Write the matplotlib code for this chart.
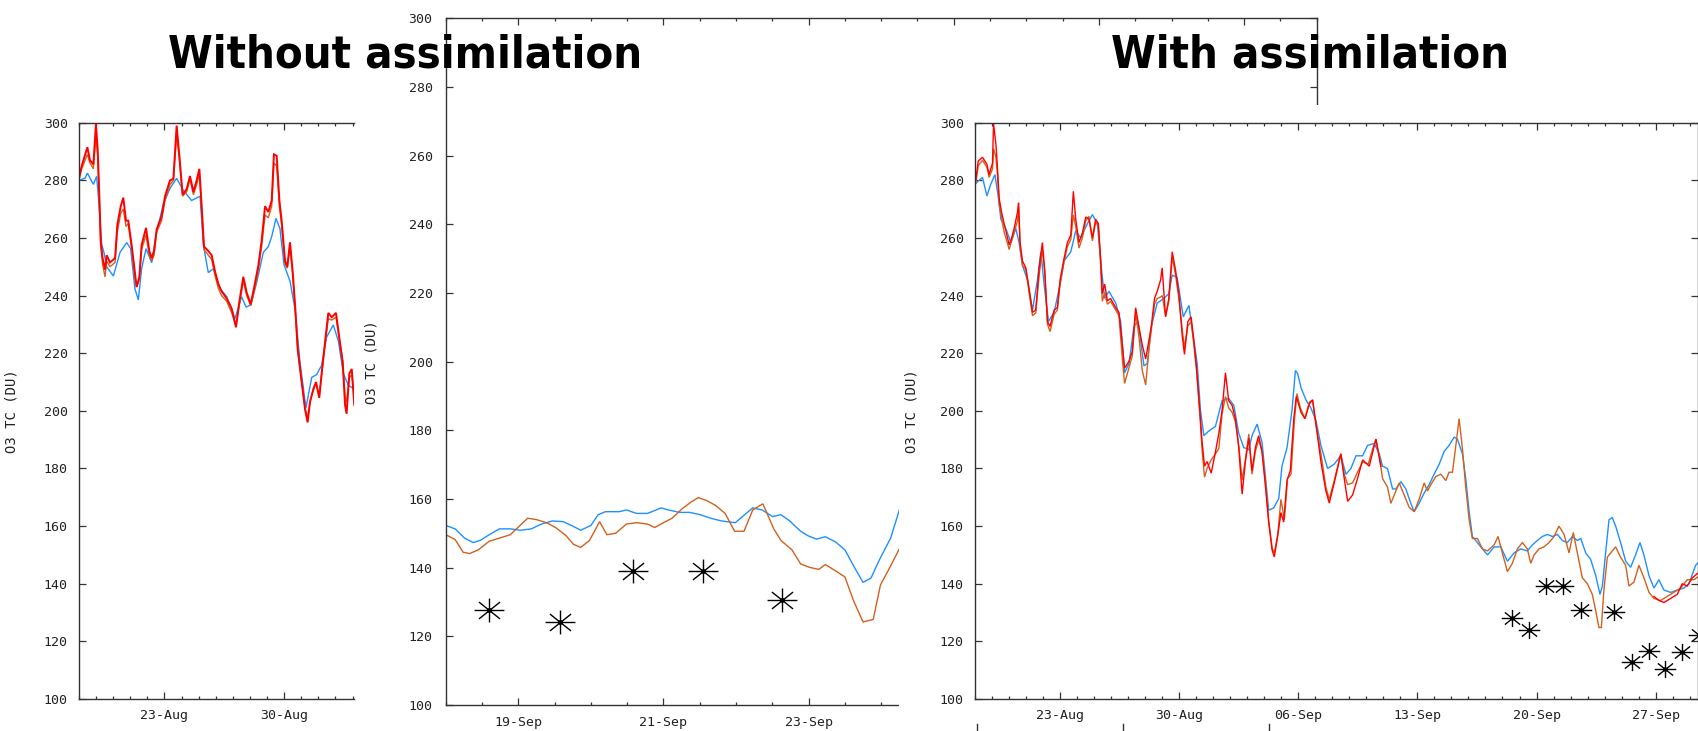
import numpy as np
import matplotlib
matplotlib.use("Agg")
import matplotlib.pyplot as plt
from matplotlib.path import Path
from matplotlib.patches import Rectangle
from matplotlib.lines import Line2D
from matplotlib.ticker import MultipleLocator

# x values are day numbers counted from 1 Aug (1 Aug = 1, 1 Sep = 32)
# ---------------- left panel: without assimilation ----------------
left_blue = [(18.00,280),(18.35,280.7),(18.49,282.5),(18.84,278.6),(19.03,281.4),(19.15,273),(19.33,257.7),
             (19.46,255),(19.62,250),(20.01,246.8),(20.40,255),(20.79,258.4),(21.02,256.3),(21.27,242.4),
             (21.47,238.5),(21.66,249.3),(21.92,256.3),(22.25,251.4),(22.54,262),(22.93,271.7),(23.32,277.2),
             (23.71,280.7),(24.10,276.5),(24.59,273),(25.08,274.5),(25.27,257.7),(25.56,248),(25.86,249.3),
             (26.25,242.4),(26.64,239.6),(27.12,232),(27.51,239.6),(27.77,236),(28.04,236.8),(28.39,244.5),
             (28.78,255),(29.07,257),(29.27,260.5),(29.52,266.8),(29.75,263.3),(29.99,250.7),(30.34,245),
             (30.63,235.4),(30.92,217.2),(31.27,201),(31.61,211.6),(31.90,212.6),(32.19,215.8),(32.48,225.6),
             (32.87,229.8),(33.17,224.2),(33.46,213),(33.75,208.9),(34.10,207.5)]
left_brown = [(18.00,280),(18.16,284),(18.49,289),(18.64,286),(18.84,284),(18.99,295),(19.09,289),(19.19,273),
              (19.27,257),(19.38,251),(19.52,246.5),(19.62,252),(19.81,250),(20.11,251.5),(20.24,262),
              (20.44,268.5),(20.59,270),(20.75,264),(20.88,265),(21.08,256),(21.27,246),(21.37,243),
              (21.53,245.5),(21.66,256),(21.92,261),(22.11,254),(22.25,252),(22.39,254),(22.54,262),
              (22.83,266),(23.03,273),(23.32,278.5),(23.52,280),(23.71,296),(23.87,287),(24.06,274.5),
              (24.30,276),(24.49,280.5),(24.69,275),(24.88,278.5),(25.04,282),(25.17,270),(25.31,256),
              (25.56,254),(25.76,252.5),(25.95,247),(26.15,242.5),(26.34,240),(26.64,238),(26.93,234),
              (27.18,229.5),(27.38,237),(27.61,245),(27.81,240),(28.04,236.5),(28.23,241),(28.49,249),
              (28.68,257),(28.88,268),(29.07,267),(29.27,271),(29.40,286),(29.56,285),(29.72,271),
              (29.85,264.5),(30.05,251),(30.18,249.5),(30.34,257),(30.50,247),(30.65,234.5),(30.79,221),
              (31.02,210.5),(31.22,201),(31.37,197.5),(31.51,203.5),(31.70,207),(31.86,209.5),(32.05,205),
              (32.19,212.5),(32.39,223),(32.58,232),(32.78,231.5),(33.03,232.5),(33.22,225),(33.42,217.5),
              (33.56,205),(33.65,203),(33.81,211.5),(33.95,212.5),(34.10,205)]
left_red = [(18.00,281),(18.16,285),(18.49,291.5),(18.64,287),(18.84,285.5),(18.99,299.5),(19.09,291),
            (19.19,274.5),(19.27,259),(19.38,253),(19.52,249),(19.62,254),(19.81,251.5),(20.11,253),
            (20.24,264.5),(20.44,271),(20.59,274),(20.75,266),(20.88,266),(21.08,257.5),(21.27,248),
            (21.37,243),(21.53,246.5),(21.66,257.5),(21.92,263.5),(22.11,255.5),(22.25,253),(22.39,255.5),
            (22.54,263),(22.83,267.5),(23.03,274.5),(23.32,280),(23.52,280.5),(23.71,299),(23.87,288.5),
            (24.06,275),(24.30,277),(24.49,281.5),(24.69,276),(24.88,280),(25.04,284),(25.17,271.5),
            (25.31,257),(25.56,255.5),(25.76,254),(25.95,248.5),(26.15,244),(26.34,241.5),(26.64,239),
            (26.93,235.5),(27.18,229),(27.38,238),(27.61,246.5),(27.81,241),(28.04,237),(28.23,242.5),
            (28.49,250.5),(28.68,259),(28.88,271),(29.07,269),(29.27,273),(29.40,289),(29.56,288.5),
            (29.72,273),(29.85,266),(30.05,252),(30.18,250),(30.34,258.5),(30.50,248),(30.65,235.5),
            (30.79,221.5),(31.02,210),(31.22,200.5),(31.37,196),(31.51,203),(31.70,207.5),(31.86,210),
            (32.05,204.5),(32.19,213),(32.39,224),(32.58,234),(32.78,232.5),(33.03,234),(33.22,225.5),
            (33.42,217),(33.56,202),(33.65,199),(33.81,213),(33.95,214.5),(34.10,202)]

# ---------------- middle panel: zoom 18-30 Sep ----------------
mid_blue = [(49.00,152.3),(49.13,151.3),(49.26,148.6),(49.38,147.3),(49.48,148),(49.60,149.6),(49.74,151.3),
            (49.89,151.3),(50.03,150.9),(50.18,151.3),(50.32,152.7),(50.47,153.6),(50.62,153.4),(50.76,152),
            (50.86,150.9),(51.00,152.3),(51.10,155.4),(51.20,156.3),(51.39,156.3),(51.49,156.8),(51.63,155.8),
            (51.78,155.8),(51.97,157.4),(52.07,156.8),(52.22,156.1),(52.36,156.1),(52.51,155.4),(52.65,154.4),
            (52.80,153.6),(52.99,153.1),(53.09,154.9),(53.23,157.4),(53.36,156.8),(53.50,154.9),(53.62,155.4),
            (53.74,153.6),(53.89,150.6),(53.99,149.3),(54.11,148.3),(54.23,149),(54.37,147.5),(54.50,145.2),
            (54.62,140.5),(54.75,135.7),(54.86,137),(54.98,142.5),(55.13,148.6),(55.25,156.8)]
mid_brown = [(49.00,149.6),(49.13,148.2),(49.24,144.5),(49.33,144.1),(49.45,145.2),(49.60,147.7),(49.74,148.6),
             (49.89,149.6),(50.01,152),(50.13,154.4),(50.25,154),(50.40,153),(50.52,151.6),(50.66,149.3),
             (50.76,146.8),(50.86,145.9),(50.98,147.9),(51.05,150.6),(51.12,153.4),(51.22,149.6),(51.34,150),
             (51.49,152.7),(51.63,153.1),(51.78,152.7),(51.88,151.7),(52.00,153.1),(52.12,154.4),(52.26,157.2),
             (52.38,159.1),(52.48,160.4),(52.60,159.5),(52.72,158.1),(52.85,155.8),(52.98,150.6),(53.11,150.6),
             (53.23,156.8),(53.37,158.6),(53.52,151.3),(53.62,147.9),(53.77,145.2),(53.89,141.1),(54.01,140.1),
             (54.14,139.5),(54.23,140.9),(54.37,139.1),(54.50,137.3),(54.62,130.3),(54.75,124.2),(54.89,124.9),
             (54.99,135),(55.13,140.5),(55.25,145.5)]
mid_obs_t = [49.59, 50.57, 51.58, 52.54, 53.63]
mid_obs_v = [127.8, 124.2, 139.1, 139.1, 130.7]

# ---------------- right panel: with assimilation ----------------
right_blue = [(18.05,279),(18.44,281),(18.70,274.6),(18.93,278.7),(19.17,282),(19.36,274.6),(19.52,266.5),
              (19.81,263.3),(20.11,258.4),(20.40,263.3),(20.59,258.4),(20.79,250.4),(21.08,245.5),(21.38,235),
              (21.67,245.5),(21.87,255.2),(22.06,243.9),(22.32,231),(22.65,234.2),(23.00,243.9),(23.23,252),
              (23.63,255.2),(23.92,262.5),(24.21,260),(24.60,264.9),(24.90,268.1),(25.19,265),(25.44,248.7),
              (25.62,239),(25.87,241.5),(26.27,237.4),(26.56,231),(26.79,213.2),(27.05,216.4),(27.34,229.3),
              (27.58,231),(27.73,224.5),(27.93,215.6),(28.12,216.4),(28.36,229.3),(28.71,237.4),(29.10,239),
              (29.39,240.7),(29.59,247.1),(29.88,246.3),(30.24,232.6),(30.57,236.6),(30.82,226),(31.06,216.4),
              (31.25,200.2),(31.45,191.4),(31.74,193),(32.13,194.6),(32.52,203.5),(32.91,204.3),(33.21,201.9),
              (33.50,192.2),(33.79,187.3),(34.09,186.5),(34.28,191.4),(34.58,195.4),(34.87,189),(35.06,177.6),
              (35.26,165.5),(35.55,166.3),(35.85,169.5),(36.04,180.8),(36.34,187.3),(36.63,200.2),(36.83,214),
              (36.96,213),(37.16,208),(37.45,203.8),(37.74,201),(38.04,196.6),(38.33,188),(38.72,180),
              (39.11,181.5),(39.50,184.4),(39.80,178),(40.09,180),(40.39,184.4),(40.78,184.4),(41.07,188),
              (41.46,188.7),(41.76,185.1),(41.95,180.8),(42.24,180),(42.54,172.9),(42.73,172.9),(43.03,175.4),
              (43.32,172.9),(43.61,167.9),(43.81,165),(44.10,167.9),(44.40,171.5),(44.69,174.4),(44.98,178),
              (45.28,181.5),(45.57,185.9),(45.86,188),(46.16,190.9),(46.35,190.2),(46.65,185),(46.84,176.5),
              (47.04,165),(47.23,156.4),(47.43,155),(47.72,152.8),(48.12,150),(48.51,152.8),(48.90,152.8),
              (49.29,147.8),(49.68,150.7),(50.07,152.1),(50.46,151.4),(50.76,153.5),(51.05,155),(51.34,156.4),
              (51.64,157.1),(51.93,156.4),(52.23,157.1),(52.52,155),(52.81,154.3),(53.11,156.4),(53.40,155),
              (53.60,155.7),(53.89,150.7),(54.18,148.5),(54.48,142.8),(54.73,136.3),(54.87,139.2),(55.06,150.7),
              (55.26,162.2),(55.45,163),(55.65,160),(55.94,154.3),(56.24,147.8),(56.53,145.7),(56.82,150),
              (57.08,154.3),(57.31,150),(57.61,142.8),(57.90,138.5),(58.19,141.4),(58.49,137.8),(58.88,137),
              (59.27,137.8),(59.66,138.5),(59.96,140),(60.35,146.4),(60.58,147.8)]
right_brown = [(18.05,279),(18.19,285),(18.44,287),(18.70,284.5),(18.83,281),(19.03,284),(19.09,291),(19.23,288),
               (19.32,282),(19.42,272),(19.56,267),(19.71,262),(19.87,259),(20.01,256),(20.15,259),(20.30,262),
               (20.50,266),(20.56,271),(20.65,257),(20.79,250.5),(20.99,249),(21.18,241),(21.38,233),(21.57,234),
               (21.77,247),(21.96,256),(22.10,248),(22.26,230),(22.41,227.5),(22.65,233.5),(22.84,235),(23.00,244),
               (23.23,251.5),(23.43,257),(23.63,259.5),(23.78,268),(23.92,264),(24.11,256.5),(24.31,260),
               (24.51,266),(24.70,267.5),(24.90,259),(25.09,265.5),(25.25,264),(25.39,250),(25.48,238),(25.62,241),
               (25.78,237),(25.97,238),(26.27,235),(26.46,233),(26.66,218),(26.79,209.5),(27.05,215),(27.24,219),
               (27.44,234),(27.63,226),(27.83,214),(28.03,209),(28.22,221),(28.36,228),(28.55,237),(28.71,239),
               (28.91,239.5),(29.00,240),(29.20,233),(29.39,238),(29.59,253.5),(29.79,247),(29.98,239),(30.18,228),
               (30.31,222),(30.51,229.5),(30.70,231),(30.86,223),(31.02,214),(31.21,199),(31.35,186),(31.49,177),
               (31.64,180),(31.88,183),(32.13,185),(32.33,187),(32.52,199),(32.72,205),(32.91,201),(33.11,199.5),
               (33.31,196),(33.50,188),(33.70,176),(33.89,183),(34.09,192),(34.28,178),(34.48,186),(34.67,190),
               (34.87,186),(35.06,176),(35.26,162),(35.46,152.5),(35.59,150.5),(35.79,157),(35.98,169.3),
               (36.18,162.2),(36.37,176.5),(36.57,178),(36.77,196.6),(36.92,206),(37.12,201),(37.39,197.3),
               (37.65,203),(37.84,203.8),(38.04,195.2),(38.33,185.1),(38.62,173.6),(38.82,169.3),(39.11,175.8),
               (39.50,185.1),(39.70,178),(39.90,174.4),(40.19,175),(40.48,178.7),(40.78,182.3),(41.11,181.5),
               (41.36,186.6),(41.56,190.2),(41.76,184.4),(41.95,176.5),(42.24,173.6),(42.44,167.9),(42.64,170.8),
               (42.93,175),(43.22,170.8),(43.52,166.5),(43.81,165),(44.10,169.3),(44.40,175),(44.59,172.2),
               (44.79,174.4),(45.08,177.2),(45.38,178),(45.67,175.8),(45.86,178.7),(46.06,178.7),(46.26,188),
               (46.45,197.3),(46.65,186.6),(46.84,173.6),(47.04,162.2),(47.23,155.7),(47.53,155.7),(47.82,152.1),
               (48.12,151.4),(48.51,153.5),(48.74,156.4),(48.99,150.7),(49.29,144.2),(49.58,147.1),(49.88,152.1),
               (50.17,154.3),(50.46,152.1),(50.66,147.1),(50.86,150),(51.15,152.1),(51.44,152.8),(51.74,154.3),
               (52.03,156.4),(52.32,160),(52.62,157.1),(52.91,150.7),(53.16,157.8),(53.40,150.7),(53.69,142.1),
               (53.99,140),(54.28,136.3),(54.48,130.6),(54.67,124.8),(54.81,124.8),(54.96,137.8),(55.16,149.2),
               (55.36,150.7),(55.65,152.8),(55.94,149.2),(56.24,146.4),(56.43,139.2),(56.73,140.6),(57.02,146.4),
               (57.31,142.1),(57.61,137),(57.90,134.9),(58.29,134.2),(58.68,135.6),(59.07,137),(59.47,138.5),
               (59.86,141.4),(60.25,141.4),(60.58,142.8)]
right_red_a = [(18.05,280.3),(18.19,286.7),(18.44,288),(18.70,285.6),(18.83,282),(19.03,286),(19.09,299.7),
               (19.23,292.4),(19.32,284.3),(19.42,273.8),(19.56,269),(19.71,265),(19.87,261),(20.01,257.6),
               (20.15,260),(20.30,263.3),(20.50,269),(20.56,272.2),(20.65,258.4),(20.79,252),(20.99,249.6),
               (21.18,242.3),(21.38,234.2),(21.57,235),(21.77,249.6),(21.96,258.4),(22.10,248.7),(22.26,231),
               (22.41,229.3),(22.65,235),(22.84,235.8),(23.00,245.5),(23.23,252.8),(23.43,258.4),(23.63,261),
               (23.78,276.2),(23.92,266.5),(24.11,258.4),(24.31,261.7),(24.51,267.3),(24.70,266.5),(24.90,260),
               (25.09,266.5),(25.25,265),(25.39,252),(25.48,240.7),(25.62,244),(25.78,238.2),(25.97,239),
               (26.27,235.8),(26.46,234.2),(26.66,222.9),(26.79,214.8),(27.05,217.2),(27.24,220.5),(27.44,235.8),
               (27.63,229.3),(27.83,222.9),(28.03,218),(28.22,224.5),(28.36,229.3),(28.55,239),(28.71,241.5),
               (28.91,245.5),(29.00,249.6),(29.20,232.6),(29.39,239),(29.59,255.2),(29.79,248.7),(29.98,240.7),
               (30.18,226),(30.31,219.6),(30.51,231),(30.70,232.6),(30.86,224.5),(31.02,214.8),(31.21,200.2),
               (31.35,188.9),(31.49,180.8),(31.64,182.4),(31.88,178.4),(32.13,185.7),(32.33,192.2),(32.52,200.2),
               (32.72,213.2),(32.91,203.5),(33.11,201.9),(33.31,197),(33.50,187.3),(33.70,171.1),(33.89,182.4),
               (34.09,190.5),(34.28,179.2),(34.48,187.3),(34.67,191.4),(34.87,185.7),(35.06,174.4),(35.26,161.4),
               (35.46,151.7),(35.59,149.3),(35.79,156.6),(35.98,164.7),(36.14,161.4),(36.34,176),(36.53,179.2),
               (36.73,197),(36.88,205),(37.16,199.5),(37.39,197.3),(37.65,202.4),(37.84,203.8),(38.04,195.2),
               (38.33,182.3),(38.62,172.2),(38.82,168),(39.11,175),(39.50,185.1),(39.70,176.5),(39.90,168.6),
               (40.19,170.8),(40.48,176.5),(40.78,183),(41.17,180.8),(41.56,190.2),(41.85,180.8)]
right_red_b = [(57.90,135.6),(58.19,134.2),(58.49,133.5),(58.88,134.9),(59.27,136.3),(59.56,140),(59.86,139.2),
               (60.15,142),(60.58,144.2)]
right_obs_t = [49.58, 50.56, 51.58, 52.58, 53.63, 55.55, 56.59, 57.61, 58.53, 59.56, 60.54]
right_obs_v = [128, 124.1, 139.2, 139.2, 131, 130.1, 112.9, 116.5, 110.5, 116.2, 122.2]

# tick labels
wide_ticks = [23, 30, 37, 44, 51, 58]
wide_labels = ['23-Aug', '30-Aug', '06-Sep', '13-Sep', '20-Sep', '27-Sep']
zoom_ticks = [50, 52, 54, 56, 58, 60]
zoom_labels = ['19-Sep', '21-Sep', '23-Sep', '25-Sep', '27-Sep', '29-Sep']
y_ticks = list(range(100, 301, 20))
ylabel = 'O3 TC (DU)'

BLUE = '#1E90FF'
BROWN = '#D2601E'
RED = '#FF0000'
INK = '#333333'

plt.rcParams['font.family'] = ['DejaVu Sans Mono']
W, H = 1699, 731
fig = plt.figure(figsize=(W / 100, H / 100), dpi=100)
fig.patch.set_facecolor('white')


def px_axes(x0, y0, x1, y1, z):
    return fig.add_axes([x0 / W, 1 - y1 / H, (x1 - x0) / W, (y1 - y0) / H], zorder=z)


def style(ax, xlim, ticks, labels, minor, right=True, ypad=8, xpad=7, ylab_x=-0.1):
    ax.set_xticks(ticks)
    ax.set_xticklabels(labels)
    ax.xaxis.set_minor_locator(MultipleLocator(minor))
    ax.set_yticks(y_ticks)
    ax.set_yticklabels([str(v) for v in y_ticks])
    ax.set_xlim(*xlim)
    ax.set_ylim(100, 300)
    ax.tick_params(which='both', direction='in', top=True, right=right, colors=INK,
                   labelcolor='#222222', labelsize=9.5, width=0.9)
    ax.tick_params(which='major', length=5)
    ax.tick_params(which='minor', length=2.5)
    ax.tick_params(axis='y', pad=ypad)
    ax.tick_params(axis='x', pad=xpad)
    for s in ax.spines.values():
        s.set_color(INK)
        s.set_linewidth(1.0)
    if not right:
        ax.spines['right'].set_visible(False)
    ax.set_ylabel(ylabel, fontsize=10, color='#222222')
    ax.yaxis.set_label_coords(ylab_x, 0.5)


def draw(ax, pts, color, lw=1.0):
    t, v = zip(*pts)
    ax.plot(t, v, color=color, lw=lw, solid_joinstyle='miter')


ang = np.deg2rad(np.arange(0, 360, 45))
verts, codes = [], []
for a in ang:
    verts += [(0, 0), (np.cos(a), 0.8 * np.sin(a))]
    codes += [Path.MOVETO, Path.LINETO]
star = Path(verts, codes)

# left panel (partly hidden by the middle one)
axL = px_axes(79, 122.7, 354.3, 699, 1)
style(axL, (18, 34.1), wide_ticks, wide_labels, 1, right=False, ylab_x=-0.218)
draw(axL, left_blue, BLUE)
draw(axL, left_brown, BROWN)
draw(axL, left_red, RED, 1.4)

# middle panel
axM = px_axes(445.7, 18.3, 1316.7, 705, 2)
style(axM, (49, 61), zoom_ticks, zoom_labels, 0.5, ypad=9.5, xpad=8, ylab_x=-0.0777)
draw(axM, mid_blue, BLUE)
draw(axM, mid_brown, BROWN)
axM.plot(mid_obs_t, mid_obs_v, ls='none', marker=star, ms=21.5, mec='black', mew=1.0)
axM.plot(mid_obs_t, mid_obs_v, ls='none', marker='o', ms=2.5, color='black')

# white sheet of the right-hand picture
fig.add_artist(Rectangle((899 / W, 0), 1 - 899 / W, 1 - 105 / H, transform=fig.transFigure,
                         facecolor='white', edgecolor='none', zorder=3))

# right panel
axR = px_axes(975, 122.7, 1698, 699, 4)
style(axR, (18, 60.49), wide_ticks, wide_labels, 1, ylab_x=-0.0775)
draw(axR, right_blue, BLUE)
draw(axR, right_brown, BROWN)
draw(axR, right_red_a, RED)
draw(axR, right_red_b, RED)
axR.plot(right_obs_t, right_obs_v, ls='none', marker=star, ms=15.5, mec='black', mew=1.0)
axR.plot(right_obs_t, right_obs_v, ls='none', marker='o', ms=2.2, color='black')

# stray marks of a lower picture
for xm in (977, 1123, 1269):
    fig.add_artist(Line2D([xm / W, xm / W], [0, 7 / H], transform=fig.transFigure,
                          color=INK, lw=1.0, zorder=5))

title_kw = dict(fontsize=32.5, fontweight='bold', family=['DejaVu Sans'], fontstretch='condensed',
                ha='center', va='center', color='black', zorder=6)
fig.text(405 / W, 1 - 55 / H, 'Without assimilation', **title_kw)
fig.text(1310 / W, 1 - 55 / H, 'With assimilation', **title_kw)

fig.savefig('out.png', dpi=100, facecolor='white')
